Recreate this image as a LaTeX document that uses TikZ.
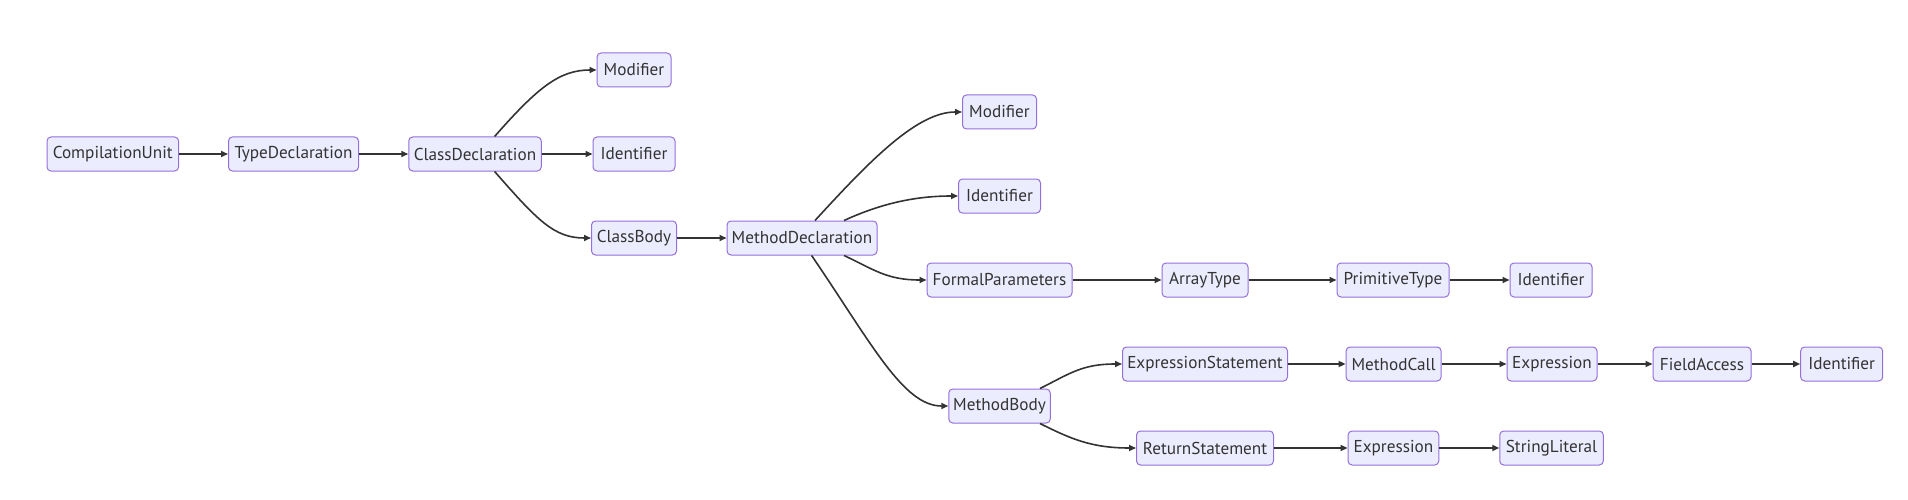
\documentclass[tikz,border=0pt]{standalone}
\usepackage{fontspec}
\setmainfont{PT Sans}
\usetikzlibrary{arrows.meta}
\definecolor{nodefill}{HTML}{ECECFF}
\definecolor{nodeborder}{HTML}{9370DB}
\definecolor{edgecol}{HTML}{333333}
\begin{document}
\begin{tikzpicture}[x=1pt,y=-1pt,
  box/.style={draw=nodeborder, fill=nodefill, rounded corners=4pt, line width=1pt,
    minimum height=34pt, inner xsep=0pt, inner ysep=0pt, text=edgecol,
    font=\fontsize{17.2}{20}\selectfont},
  edge/.style={draw=edgecol, line width=1.6pt, -{Triangle[length=7pt,width=6pt]}}]
\fill[white] (0,0) rectangle (1908,500);
\useasboundingbox (0,0) rectangle (1908,500);

\node[box, minimum width=131.6pt] (cu) at (112.8,154) {CompilationUnit};
\node[box, minimum width=130pt] (td) at (293.5,154) {TypeDeclaration};
\node[box, minimum width=132.5pt] (cd) at (475,154) {ClassDeclaration};
\node[box, minimum width=74pt] (mod1) at (634,70) {Modifier};
\node[box, minimum width=82pt] (id1) at (634,154) {Identifier};
\node[box, minimum width=85pt] (cb) at (634,238) {ClassBody};
\node[box, minimum width=150pt] (md) at (802,238) {MethodDeclaration};
\node[box, minimum width=74pt] (mod2) at (999.5,112) {Modifier};
\node[box, minimum width=82pt] (id2) at (999.5,196) {Identifier};
\node[box, minimum width=145pt] (fp) at (999.5,280) {FormalParameters};
\node[box, minimum width=86pt] (at) at (1205,280) {ArrayType};
\node[box, minimum width=112pt] (pt) at (1393,280) {PrimitiveType};
\node[box, minimum width=82pt] (id3) at (1551,280) {Identifier};
\node[box, minimum width=101.5pt] (mb) at (999.5,406) {MethodBody};
\node[box, minimum width=165pt] (es) at (1205,364) {ExpressionStatement};
\node[box, minimum width=95pt] (mc) at (1393.6,364) {MethodCall};
\node[box, minimum width=90pt] (ex1) at (1552,364) {Expression};
\node[box, minimum width=98pt] (fa) at (1702,364) {FieldAccess};
\node[box, minimum width=82pt] (id4) at (1841.7,364) {Identifier};
\node[box, minimum width=137pt] (rs) at (1205,448) {ReturnStatement};
\node[box, minimum width=90.7pt] (ex2) at (1393.4,448) {Expression};
\node[box, minimum width=103.5pt] (sl) at (1551.5,448) {StringLiteral};

\draw[edge] (cu) -- (td);
\draw[edge] (td) -- (cd);
\draw[edge] (cd) -- (id1);
\draw[edge] (cb) -- (md);
\draw[edge] (fp) -- (at);
\draw[edge] (at) -- (pt);
\draw[edge] (pt) -- (id3);
\draw[edge] (es) -- (mc);
\draw[edge] (mc) -- (ex1);
\draw[edge] (ex1) -- (fa);
\draw[edge] (fa) -- (id4);
\draw[edge] (rs) -- (ex2);
\draw[edge] (ex2) -- (sl);

\draw[edge] ([xshift=19.6pt]cd.north) .. controls +(43,-49) and +(-37,0) .. (mod1.west);
\draw[edge] ([xshift=19.6pt]cd.south) .. controls +(43,49) and +(-37,0) .. (cb.west);
\draw[edge] ([xshift=13pt]md.north) .. controls +(55,-60) and +(-45,0) .. (mod2.west);
\draw[edge] ([xshift=42pt]md.north) .. controls +(35,-16) and +(-45,0) .. (id2.west);
\draw[edge] ([xshift=42pt]md.south) .. controls +(30,14) and +(-40,0) .. (fp.west);
\draw[edge] ([xshift=9.6pt]md.south) .. controls +(60,88) and +(-45,0) .. (mb.west);
\draw[edge] ([xshift=40.5pt]mb.north) .. controls +(30,-15) and +(-40,0) .. (es.west);
\draw[edge] ([xshift=40.5pt]mb.south) .. controls +(30,15) and +(-45,0) .. (rs.west);
\end{tikzpicture}
\end{document}
